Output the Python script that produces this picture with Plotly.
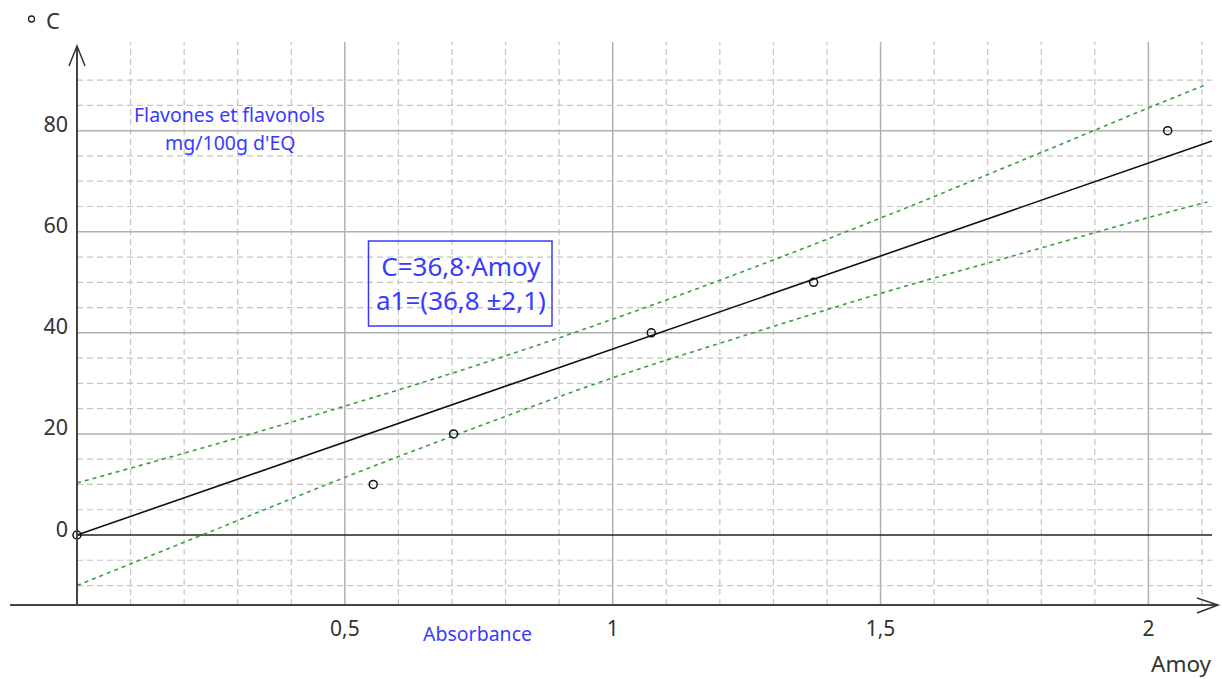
import plotly.graph_objects as go

# ---------------- data ----------------
absorbance = [0.0, 0.553, 0.703, 1.072, 1.375, 2.036]
concentration = [0, 10, 20, 40, 50, 80]
slope = 36.8  # C = 36,8·Amoy

band_x = [0.0, 0.25, 0.5, 0.75, 1.0, 1.25, 1.5, 1.75, 2.0, 2.11]
band_upper = [10.3, 17.7, 25.5, 33.7, 42.7, 52.4, 62.7, 73.5, 84.5, 89.2]
band_lower = [-10.0, 0.7, 11.4, 21.5, 31.1, 39.6, 47.8, 55.3, 62.8, 65.9]

x_tickvals = [0.5, 1, 1.5, 2]
x_ticktext = ["0,5", "1", "1,5", "2"]
y_tickvals = [0, 20, 40, 60, 80]
y_ticktext = ["0", "20", "40", "60", "80"]

# ---------------- geometry ----------------
W, H = 1222, 679
L, R, T, B = 10, 1218, 40, 605          # plot area in pixels
X0PIX, XSCALE = 77, 535.7                # pixel of x=0, px per unit
Y0PIX, YSCALE = 535, 5.054               # pixel of y=0, px per unit
xmin = (L - X0PIX) / XSCALE
xmax = (R - X0PIX) / XSCALE
ymin = (Y0PIX - B) / YSCALE
ymax = (Y0PIX - T) / YSCALE


def dx(p):
    return (p - X0PIX) / XSCALE


def dy(p):
    return (Y0PIX - p) / YSCALE


def px(p):
    return (p - L) / (R - L)


def py(p):
    return (B - p) / (B - T)


FONT = "Noto Sans"
BLUE = "#3a3aff"
TXT = "#333333"

fig = go.Figure()

# bands
fig.add_trace(go.Scatter(x=band_x, y=band_upper, mode="lines", hoverinfo="skip",
                         line=dict(color="#3a9e3a", width=1.6, dash="4px,4px", shape="spline")))
fig.add_trace(go.Scatter(x=band_x, y=band_lower, mode="lines", hoverinfo="skip",
                         line=dict(color="#3a9e3a", width=1.6, dash="4px,4px", shape="spline")))
# regression line
x_end = dx(1212)
fig.add_trace(go.Scatter(x=[0, x_end], y=[0, slope * x_end], mode="lines",
                         line=dict(color="#111111", width=1.6)))
# points
fig.add_trace(go.Scatter(x=absorbance, y=concentration, mode="markers",
                         marker=dict(symbol="circle-open", size=8, color="#111111",
                                     line=dict(width=1.5, color="#111111"))))

shapes = []
# vertical grid
for i in range(1, 22):
    v = i / 10
    major = (i % 5 == 0)
    shapes.append(dict(type="line", xref="x", yref="y", x0=v, x1=v, y0=ymin, y1=dy(42),
                       layer="below",
                       line=dict(color="#b0b0b0" if major else "#c4c4c4",
                                 width=1.5 if major else 1.2,
                                 dash="solid" if major else "6px,4px")))
# horizontal grid
for v in range(-10, 95, 5):
    if v == 0:
        continue
    major = (v % 20 == 0)
    shapes.append(dict(type="line", xref="x", yref="y", x0=0, x1=x_end, y0=v, y1=v,
                       layer="below",
                       line=dict(color="#b0b0b0" if major else "#c4c4c4",
                                 width=1.5 if major else 1.2,
                                 dash="solid" if major else "6px,4px")))
# zero line
shapes.append(dict(type="line", xref="x", yref="y", x0=0, x1=x_end, y0=0, y1=0,
                   layer="below", line=dict(color="#222222", width=1.6)))
# axes with arrows (paper coords)
AX = dict(color="#444444", width=2)
shapes.append(dict(type="line", xref="paper", yref="paper", x0=px(10), x1=px(1218),
                   y0=py(605), y1=py(605), line=AX))
shapes.append(dict(type="path", xref="paper", yref="paper",
                   path=f"M {px(1197)} {py(598)} L {px(1218)} {py(605)} L {px(1197)} {py(613)}",
                   line=dict(color="#333333", width=1.5)))
shapes.append(dict(type="line", xref="paper", yref="paper", x0=px(77), x1=px(77),
                   y0=py(605), y1=py(46), line=AX))
shapes.append(dict(type="path", xref="paper", yref="paper",
                   path=f"M {px(69)} {py(66)} L {px(77)} {py(46)} L {px(85)} {py(66)}",
                   line=dict(color="#333333", width=1.5)))
# marker legend circle near "C"
shapes.append(dict(type="circle", xref="paper", yref="paper",
                   x0=px(28.5), x1=px(34.5), y0=py(16), y1=py(22),
                   line=dict(color="#222222", width=1.3)))
# equation box
shapes.append(dict(type="rect", xref="paper", yref="paper",
                   x0=px(368.5), x1=px(552), y0=py(241), y1=py(326),
                   line=dict(color=BLUE, width=1.5)))

annotations = []


def ann(text, xp, yp, size, color, xanchor="center"):
    annotations.append(dict(text=text, xref="paper", yref="paper", x=px(xp), y=py(yp),
                            xanchor=xanchor, yanchor="middle", showarrow=False,
                            align="center",
                            font=dict(family=FONT, size=size, color=color)))


ann("C", 53.5, 20, 22, TXT)
ann("Flavones et flavonols", 230, 114, 19.5, BLUE)
ann("mg/100g d'EQ", 230, 142, 19.5, BLUE)
ann("C=36,8·Amoy<br>a1=(36,8 ±2,1)", 461, 283, 26, BLUE)
ann("Absorbance", 477, 633, 19.5, BLUE)
ann("Amoy", 1181, 663, 22.5, TXT)

fig.update_layout(
    width=W, height=H,
    margin=dict(l=L, r=W - R, t=T, b=H - B),
    paper_bgcolor="white", plot_bgcolor="white",
    showlegend=False,
    shapes=shapes, annotations=annotations,
    font=dict(family=FONT, color=TXT),
    xaxis=dict(range=[xmin, xmax], tickvals=x_tickvals, ticktext=x_ticktext,
               showgrid=False, zeroline=False, showline=False, ticks="",
               tickfont=dict(family=FONT, size=21, color=TXT),
               ticklabelstandoff=9, fixedrange=True),
    yaxis=dict(range=[ymin, ymax], tickvals=y_tickvals, ticktext=y_ticktext,
               anchor="free", position=px(77),
               showgrid=False, zeroline=False, showline=False, ticks="",
               tickfont=dict(family=FONT, size=21.5, color=TXT),
               ticklabelstandoff=9, ticklabelshift=-6, fixedrange=True),
)

fig.write_html("out.html", config={"displayModeBar": False},
               post_script="document.body.style.margin='0';document.body.style.overflow='hidden';")
